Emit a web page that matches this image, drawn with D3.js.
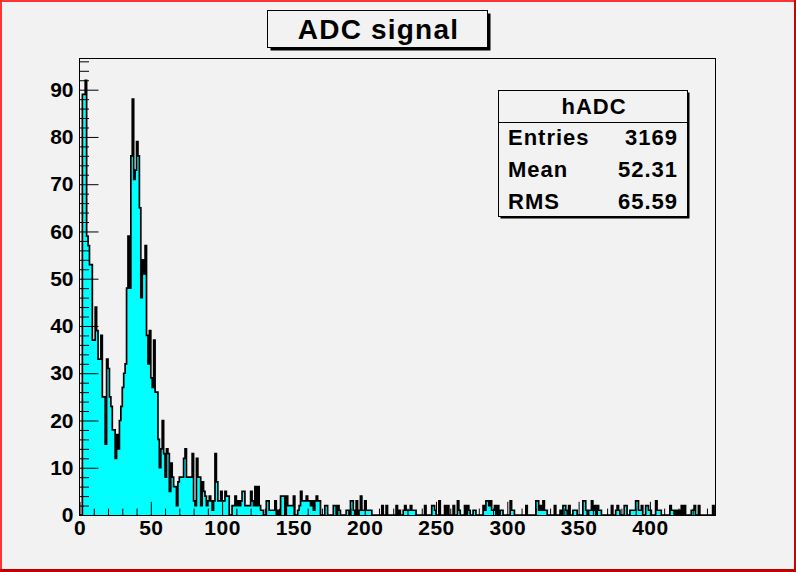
<!DOCTYPE html>
<html>
<head>
<meta charset="utf-8">
<script src="https://cdn.jsdelivr.net/npm/d3@7"></script>
<style>
  html, body { margin: 0; padding: 0; background: #f2f2f2; }
  svg { display: block; }
  text { font-family: "Liberation Sans", Arial, Helvetica, sans-serif; font-weight: bold; fill: #000; }
</style>
</head>
<body>
<svg id="chart" width="796" height="572"></svg>
<script>
// ---- data (bin width 1, bins 0..445) ----
const binCounts = [
  0,0,89,89,92,59,57,53,53,37,
  37,44,39,33,33,38,25,25,15,33,
  31,25,23,18,18,12,17,14,20,23,
  27,30,32,48,59,48,76,88,71,73,
  79,76,65,46,54,51,57,38,32,39,
  29,27,37,26,26,16,10,14,20,13,
  8,14,13,5,11,8,6,6,2,7,
  8,8,8,12,14,8,8,8,8,13,
  3,2,12,8,8,2,7,5,4,2,
  3,4,3,1,3,13,7,3,3,5,
  3,3,5,4,4,0,0,2,2,4,
  2,3,2,3,5,5,2,2,2,2,
  5,3,2,6,2,6,2,1,1,0,
  0,3,3,1,1,1,1,3,0,1,
  0,4,4,4,0,4,2,2,2,2,
  4,0,0,1,2,5,3,3,3,4,
  3,3,2,3,1,3,4,3,3,0,
  0,0,2,2,0,0,0,0,2,2,
  0,2,1,0,0,0,0,1,1,0,
  3,3,1,0,3,0,1,4,1,1,
  3,1,1,1,1,0,0,0,0,0,
  0,0,2,0,0,2,0,0,0,0,
  0,0,2,0,1,0,0,1,2,1,
  1,1,2,1,1,1,0,0,0,0,
  0,0,2,0,0,0,0,2,2,1,
  0,0,3,0,0,0,2,0,2,0,
  0,0,2,0,0,3,1,0,0,0,
  2,0,2,1,0,0,1,1,0,0,
  0,0,0,2,1,3,3,2,3,1,
  1,2,0,2,0,1,1,0,0,0,
  0,0,3,1,1,0,0,0,0,0,
  0,0,0,2,0,0,0,0,0,0,
  3,3,1,2,1,3,1,1,0,0,
  0,0,0,2,0,0,0,1,0,2,
  2,1,0,2,0,0,1,1,1,0,
  0,0,0,3,3,1,0,1,1,3,
  1,2,0,2,1,1,0,0,0,0,
  0,0,0,2,0,0,1,2,1,0,
  0,0,2,2,0,0,1,1,1,1,
  3,3,1,1,2,0,0,2,2,1,
  1,0,0,0,3,1,1,1,0,0,
  0,0,0,0,2,1,1,0,1,0,
  1,0,2,0,2,0,0,0,0,1,
  1,2,0,0,2,0,0,0,0,0,
  0,0,0,0,2,0
];
const xTickLabels = [0, 50, 100, 150, 200, 250, 300, 350, 400];
const yTickLabels = [0, 10, 20, 30, 40, 50, 60, 70, 80, 90];
const xDomain = [0, 446];
const yDomain = [0, 96.6];
const titleText = "ADC signal";
const statsName = "hADC";
const statsLabels = ["Entries", "Mean", "RMS"];
const statsValues = ["3169", "52.31", "65.59"];

// ---- layout ----
const W = 796, H = 572;
const frame = { left: 79.5, right: 715.5, top: 58.5, bottom: 515.5 };

const svg = d3.select("#chart");

svg.append("rect").attr("x", 0).attr("y", 0).attr("width", W).attr("height", H).attr("fill", "#f2f2f2");

const x = d3.scaleLinear().domain(xDomain).range([frame.left, frame.right]);
const y = d3.scaleLinear().domain(yDomain).range([frame.bottom - 0.5, frame.top]);

// histogram points for a step outline
const pts = [{ b: 0, v: 0 }];
binCounts.forEach((v, i) => pts.push({ b: i, v: v }));
pts.push({ b: binCounts.length, v: 0 });

svg.append("clipPath").attr("id", "clipFrame")
  .append("rect").attr("x", frame.left).attr("y", frame.top)
  .attr("width", frame.right - frame.left).attr("height", frame.bottom - frame.top);

const gHist = svg.append("g").attr("clip-path", "url(#clipFrame)");

const area = d3.area()
  .x(d => x(d.b)).y0(y(0)).y1(d => y(d.v))
  .curve(d3.curveStepAfter);
const line = d3.line()
  .x(d => x(d.b)).y(d => y(d.v))
  .curve(d3.curveStepAfter);

gHist.append("path").datum(pts).attr("d", area).attr("fill", "#00ffff").attr("stroke", "none");
gHist.append("path").datum(pts).attr("d", line).attr("fill", "none")
  .attr("stroke", "#000").attr("stroke-width", 1.7).attr("stroke-linejoin", "miter");

// ---- axes ----
const xMinor = x.ticks(44).filter(t => xTickLabels.indexOf(t) < 0);
const yMinor = y.ticks(48).filter(t => yTickLabels.indexOf(t) < 0);

const xAxis = d3.axisBottom(x).tickValues(xTickLabels).tickFormat(d3.format("d"))
  .tickSizeInner(-13.7).tickSizeOuter(0).tickPadding(5);
const gx = svg.append("g").attr("transform", `translate(0,${frame.bottom})`).call(xAxis);
gx.select(".domain").remove();
gx.selectAll("line").attr("stroke", "#000").attr("stroke-width", 1);
gx.selectAll("text").attr("font-size", 21).attr("font-family", "Liberation Sans, Arial, sans-serif")
  .attr("font-weight", "bold").attr("fill", "#000").attr("letter-spacing", 0.5);

const xAxisMinor = d3.axisBottom(x).tickValues(xMinor).tickFormat("")
  .tickSizeInner(-6.9).tickSizeOuter(0);
const gxm = svg.append("g").attr("transform", `translate(0,${frame.bottom})`).call(xAxisMinor);
gxm.select(".domain").remove();
gxm.selectAll("line").attr("stroke", "#000");

const yAxis = d3.axisLeft(y).tickValues(yTickLabels).tickFormat(d3.format("d"))
  .tickSizeInner(-19).tickSizeOuter(0).tickPadding(6);
const gy = svg.append("g").attr("transform", `translate(${frame.left},0)`).call(yAxis);
gy.select(".domain").remove();
gy.selectAll("line").attr("stroke", "#000");
gy.selectAll("text").attr("font-size", 21).attr("font-family", "Liberation Sans, Arial, sans-serif")
  .attr("font-weight", "bold").attr("fill", "#000");

const yAxisMinor = d3.axisLeft(y).tickValues(yMinor).tickFormat("")
  .tickSizeInner(-9.5).tickSizeOuter(0);
const gym = svg.append("g").attr("transform", `translate(${frame.left},0)`).call(yAxisMinor);
gym.select(".domain").remove();
gym.selectAll("line").attr("stroke", "#000");

// frame
svg.append("rect").attr("x", frame.left).attr("y", frame.top)
  .attr("width", frame.right - frame.left).attr("height", frame.bottom - frame.top)
  .attr("fill", "none").attr("stroke", "#000").attr("stroke-width", 1);

// ---- title box ----
const tb = { x: 267.5, y: 10.5, w: 220, h: 37 };
svg.append("rect").attr("x", tb.x + 3).attr("y", tb.y + 3).attr("width", tb.w).attr("height", tb.h).attr("fill", "#000");
svg.append("rect").attr("x", tb.x).attr("y", tb.y).attr("width", tb.w).attr("height", tb.h)
  .attr("fill", "#f2f2f2").attr("stroke", "#000").attr("stroke-width", 1);
svg.append("text").attr("x", tb.x + tb.w / 2 + 1).attr("y", 39).attr("text-anchor", "middle")
  .attr("font-size", 28).attr("letter-spacing", 1.2).text(titleText);

// ---- stats box ----
const sb = { x: 498.5, y: 90.5, w: 189, h: 126 };
svg.append("rect").attr("x", sb.x + 2).attr("y", sb.y + 2).attr("width", sb.w).attr("height", sb.h).attr("fill", "#000");
svg.append("rect").attr("x", sb.x).attr("y", sb.y).attr("width", sb.w).attr("height", sb.h)
  .attr("fill", "#f2f2f2").attr("stroke", "#000").attr("stroke-width", 1);
svg.append("line").attr("x1", sb.x).attr("x2", sb.x + sb.w).attr("y1", 122.5).attr("y2", 122.5)
  .attr("stroke", "#000").attr("stroke-width", 1);
svg.append("text").attr("x", sb.x + sb.w / 2 + 1).attr("y", 114).attr("text-anchor", "middle")
  .attr("font-size", 22).attr("letter-spacing", 1).text(statsName);
statsLabels.forEach((lab, i) => {
  const by = 145 + i * 32;
  svg.append("text").attr("x", 508).attr("y", by).attr("font-size", 22).attr("letter-spacing", 1).text(lab);
  svg.append("text").attr("x", 678).attr("y", by).attr("text-anchor", "end").attr("font-size", 22)
    .attr("letter-spacing", 1).text(statsValues[i]);
});

// ---- canvas border ----
svg.append("rect").attr("x", 0).attr("y", 0).attr("width", W).attr("height", 2).attr("fill", "#ff3333");
svg.append("rect").attr("x", 0).attr("y", 0).attr("width", 2).attr("height", H).attr("fill", "#ff3333");
svg.append("rect").attr("x", W - 2).attr("y", 0).attr("width", 2).attr("height", H).attr("fill", "#d00000");
svg.append("rect").attr("x", 0).attr("y", H - 3).attr("width", W).attr("height", 3).attr("fill", "#c00000");
</script>
</body>
</html>
